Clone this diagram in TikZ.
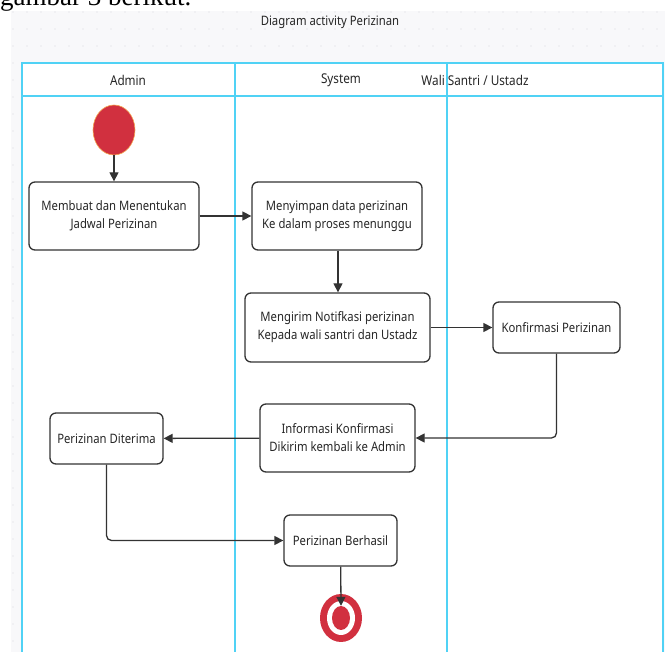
\documentclass[tikz,border=0pt]{standalone}
\usepackage{fontspec}
\setmainfont{Liberation Serif}
\newfontfamily\notosans[FakeStretch=0.87]{Noto Sans}
\usetikzlibrary{arrows.meta,shapes.geometric}
\definecolor{lanecyan}{HTML}{50D2F5}
\definecolor{flowgray}{HTML}{333333}
\definecolor{nodered}{HTML}{D1303F}
\definecolor{ringorange}{HTML}{F4A650}
\definecolor{canvasgray}{HTML}{F8F8FA}
\definecolor{dotgray}{HTML}{D8D8DE}
\tikzset{
  act/.style={draw=flowgray,line width=1.3pt,rounded corners=6pt,fill=white,align=center,
    inner sep=2pt,font=\notosans\fontsize{13}{18}\selectfont,text=black!85},
  flow/.style={draw=flowgray,line width=1.3pt,rounded corners=5pt,-{Triangle[length=9pt,width=9pt]}},
  lane/.style={draw=lanecyan,line width=1.4pt},
  lanelabel/.style={font=\notosans\fontsize{13.5}{15}\selectfont,text=black!85},
}

\begin{document}
\begin{tikzpicture}[x=1pt,y=-1pt]
  \useasboundingbox (0,0) rectangle (665,652);
  \clip (0,0) rectangle (665,652);
  \fill[canvasgray] (11,11) rectangle (665,652);
  \foreach \gx in {0,...,46}
    \foreach \gy in {0,...,37}
      \fill[dotgray] (13+14*\gx,12+17*\gy) circle[radius=0.7];
  \node[anchor=base west,inner sep=0,font=\fontsize{27}{30}\selectfont] (cuttext) at (0,6) {gambar 3 berikut.};
  \node[lanelabel,font=\notosans\fontsize{13}{15}\selectfont] (title) at (330,22) {Diagram activity Perizinan};

  \fill[white] (22,63) rectangle (663,660);
  \draw[lane] (22,660) -- (22,63) -- (663,63) -- (663,660);
  \draw[lane] (22,96) -- (663,96);
  \draw[lane] (235,63) -- (235,660);
  \draw[lane] (447,63) -- (447,660);
  \node[lanelabel] (admin) at (128,80) {Admin};
  \node[lanelabel] (system) at (341,80) {System};
  \node[lanelabel] (wali) at (475,80) {Wali Santri / Ustadz};

  \node[ellipse,fill=nodered,draw=ringorange,line width=0.6pt,minimum width=42,minimum height=50,inner sep=0] (start) at (114,130) {};
  \node[act,minimum width=170,minimum height=68] (membuat) at (114,216) {Membuat dan Menentukan\\Jadwal Perizinan};
  \node[act,minimum width=170,minimum height=68] (menyimpan) at (337,216) {Menyimpan data perizinan\\Ke dalam proses menunggu};
  \node[act,minimum width=185,minimum height=69] (mengirim) at (337.5,327.5) {Mengirim Notifkasi perizinan\\Kepada wali santri dan Ustadz};
  \node[act,minimum width=127,minimum height=51] (konfirmasi) at (556.5,327.5) {Konfirmasi Perizinan};
  \node[act,minimum width=155,minimum height=68] (informasi) at (337.5,438) {Informasi Konfirmasi\\Dikirim kembali ke Admin};
  \node[act,minimum width=113,minimum height=51] (diterima) at (106.5,438.5) {Perizinan Diterima};
  \node[act,minimum width=113,minimum height=51] (berhasil) at (340.5,540.5) {Perizinan Berhasil};
  \node[ellipse,fill=nodered,minimum width=42,minimum height=48,inner sep=0] (end) at (341,618) {};
  \fill[white] (end) ellipse[x radius=14,y radius=17];
  \fill[nodered] (end) ellipse[x radius=9,y radius=12];

  \draw[flow] (start) -- (membuat);
  \draw[flow] (membuat) -- (menyimpan);
  \draw[flow] (menyimpan.south -| 338,0) -- (mengirim.north -| 338,0);
  \draw[flow] (mengirim) -- (konfirmasi);
  \draw[flow] (konfirmasi.south) |- (informasi.east);
  \draw[flow] (informasi) -- (diterima);
  \draw[flow] (diterima.south) |- (berhasil.west);
  \draw[flow] (berhasil) -- ([yshift=-12pt]end.north);
\end{tikzpicture}
\end{document}
